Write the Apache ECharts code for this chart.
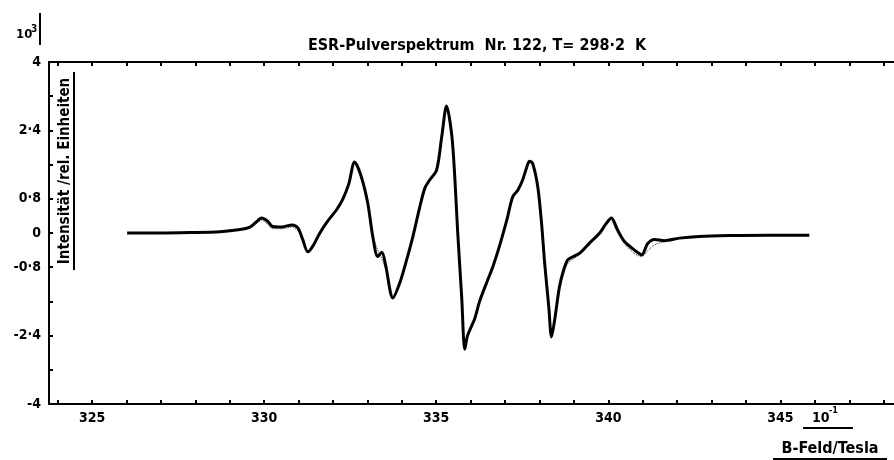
<!DOCTYPE html>
<html>
<head>
<meta charset="utf-8">
<script src="https://cdn.jsdelivr.net/npm/echarts@6/dist/echarts.min.js"></script>
<style>
  html, body { margin: 0; padding: 0; background: #fff; }
  #esr-chart { width: 894px; height: 460px; }
</style>
</head>
<body>
<div id="esr-chart"></div>
<script>
// Messkurve, B-Feld in 10^-1 Tesla, Intensitaet in 10^3 rel. Einheiten
var fieldValues = [
  326.02, 326.97, 327.84, 328.72, 329.30, 329.59, 329.76, 329.93, 330.11, 330.25,
  330.52, 330.81, 330.98, 331.12, 331.27, 331.42, 331.62, 331.82, 332.11, 332.29,
  332.46, 332.63, 332.81, 333.01, 333.16, 333.30, 333.42, 333.53, 333.74, 333.94,
  334.14, 334.32, 334.52, 334.67, 334.81, 335.01, 335.16, 335.30, 335.45, 335.54,
  335.62, 335.74, 335.83, 335.91, 336.12, 336.26, 336.47, 336.64, 336.84, 337.05,
  337.22, 337.37, 337.51, 337.63, 337.71, 337.80, 337.95, 338.06, 338.15, 338.27,
  338.35, 338.44, 338.58, 338.70, 338.82, 338.96, 339.17, 339.46, 339.75, 339.92,
  340.09, 340.27, 340.47, 340.76, 340.97, 341.14, 341.34, 341.63, 342.06, 342.64,
  343.52, 344.68, 345.84
];
var intensityValues = [
  0, 0, 0.01, 0.03, 0.08, 0.14, 0.25, 0.35, 0.27, 0.15,
  0.14, 0.19, 0.12, -0.15, -0.44, -0.3, 0.0, 0.25, 0.55, 0.8,
  1.15, 1.66, 1.35, 0.7, -0.1, -0.55, -0.45, -0.75, -1.52, -1.17,
  -0.63, -0.09, 0.6, 1.05, 1.24, 1.47, 2.25, 2.97, 2.3, 1.3,
  0.07, -1.5, -2.72, -2.4, -2.0, -1.6, -1.15, -0.8, -0.3, 0.3,
  0.84, 1.0, 1.24, 1.54, 1.68, 1.63, 1.08, 0.23, -0.7, -1.73,
  -2.43, -2.04, -1.26, -0.87, -0.63, -0.56, -0.47, -0.23, 0.0, 0.2,
  0.35, 0.07, -0.2, -0.4, -0.51, -0.25, -0.15, -0.18, -0.12, -0.08,
  -0.06, -0.05, -0.05
];

// gepunktete Kurve, nur dort wo sie sichtbar von der Messkurve abweicht (null = Luecke)
var simFields = [
  329.76, 329.93, 330.11, 330.25, 330.52, 330.81, 330.98, null,
  333.01, 333.16, 333.30, 333.42, 333.53, 333.74, null,
  338.58, 338.70, 338.82, 338.96, 339.17, null,
  340.09, 340.27, 340.47, 340.76, 340.97, 341.14, 341.34, 341.63
];
var simValues = [
  0.22, 0.3, 0.2, 0.1, 0.1, 0.14, 0.05, null,
  0.7, -0.05, -0.4, -0.6, -0.85, -1.5, null,
  -1.3, -0.95, -0.72, -0.62, -0.5, null,
  0.33, 0.0, -0.25, -0.48, -0.55, -0.42, -0.28, -0.2
];

var xTicks = [324, 325, 326, 327, 328, 329, 330, 331, 332, 333, 334, 335, 336,
  337, 338, 339, 340, 341, 342, 343, 344, 345, 346, 347, 348];
var xLabels = [325, 330, 335, 340, 345];
var yTicks = [-4, -3.2, -2.4, -1.6, -0.8, 0, 0.8, 1.6, 2.4, 3.2, 4];
var yLabels = [-4, -2.4, -0.8, 0, 0.8, 2.4, 4];

var font = '"DejaVu Sans Condensed", "Liberation Sans Narrow", "DejaVu Sans", sans-serif';

function pairs(xs, ys) {
  var out = [];
  for (var i = 0; i < xs.length; i++) {
    out.push(xs[i] === null ? [null, null] : [xs[i], ys[i]]);
  }
  return out;
}

function fmtY(v) {
  return String(v).replace('.', '·');
}

var chart = echarts.init(document.getElementById('esr-chart'));

var axisLine = { show: true, onZero: false, lineStyle: { color: '#000', width: 2 } };

var option = {
  animation: false,
  backgroundColor: '#fff',
  grid: { left: 49, top: 62, right: 0, bottom: 56, containLabel: false },
  xAxis: [
    {
      type: 'value',
      min: 323.75,
      max: 348.3,
      axisLine: axisLine,
      axisTick: { show: true, inside: true, length: 4, customValues: xTicks,
        lineStyle: { color: '#000', width: 2 } },
      axisLabel: { show: true, customValues: xLabels, margin: 7, color: '#000',
        fontSize: 14, fontWeight: 'bold', fontFamily: font },
      splitLine: { show: false }
    },
    {
      type: 'value',
      position: 'top',
      min: 323.75,
      max: 348.3,
      axisLine: axisLine,
      axisTick: { show: true, inside: true, length: 4, customValues: xTicks,
        lineStyle: { color: '#000', width: 2 } },
      axisLabel: { show: false },
      splitLine: { show: false }
    }
  ],
  yAxis: {
    type: 'value',
    min: -4,
    max: 4,
    axisLine: axisLine,
    axisTick: { show: true, inside: true, length: 4, customValues: yTicks,
      lineStyle: { color: '#000', width: 2 } },
    axisLabel: { show: true, customValues: yLabels, margin: 8, color: '#000',
      fontSize: 14, fontWeight: 'bold', fontFamily: font, formatter: fmtY },
    splitLine: { show: false }
  },
  series: [
    {
      type: 'line',
      xAxisIndex: 0,
      data: pairs(simFields, simValues),
      smooth: 0.3,
      symbol: 'none',
      connectNulls: false,
      lineStyle: { color: '#333', width: 1, type: 'dotted' },
      z: 1
    },
    {
      type: 'line',
      xAxisIndex: 0,
      data: pairs(fieldValues, intensityValues),
      smooth: 0.3,
      symbol: 'none',
      lineStyle: { color: '#000', width: 3 },
      z: 2
    }
  ],
  graphic: [
    {
      type: 'text', x: 477, y: 46,
      style: { text: 'ESR-Pulverspektrum  Nr. 122, T= 298·2  K', fill: '#000',
        font: 'bold 16px ' + font, align: 'center', verticalAlign: 'middle' }
    },
    { type: 'text', x: 16, y: 28, style: { text: '10', fill: '#000', font: 'bold 13px ' + font } },
    { type: 'text', x: 31, y: 24, style: { text: '3', fill: '#000', font: 'bold 10px ' + font } },
    { type: 'line', shape: { x1: 40, y1: 13, x2: 40, y2: 45 }, style: { stroke: '#000', lineWidth: 2 } },
    {
      type: 'text', x: 65, y: 171, rotation: Math.PI / 2,
      style: { text: 'Intensität /rel. Einheiten', fill: '#000',
        font: 'bold 15px ' + font, align: 'center', verticalAlign: 'middle' }
    },
    { type: 'line', shape: { x1: 74, y1: 72, x2: 74, y2: 270 }, style: { stroke: '#000', lineWidth: 2 } },
    { type: 'text', x: 812, y: 411, style: { text: '10', fill: '#000', font: 'bold 14px ' + font } },
    { type: 'text', x: 829, y: 406, style: { text: '-1', fill: '#000', font: 'bold 9px ' + font } },
    { type: 'line', shape: { x1: 803, y1: 428, x2: 853, y2: 428 }, style: { stroke: '#000', lineWidth: 2 } },
    {
      type: 'text', x: 830, y: 449,
      style: { text: 'B-Feld/Tesla', fill: '#000', font: 'bold 16px ' + font,
        align: 'center', verticalAlign: 'middle' }
    },
    { type: 'line', shape: { x1: 773, y1: 459, x2: 887, y2: 459 }, style: { stroke: '#000', lineWidth: 2 } }
  ]
};

chart.setOption(option);
</script>
</body>
</html>
